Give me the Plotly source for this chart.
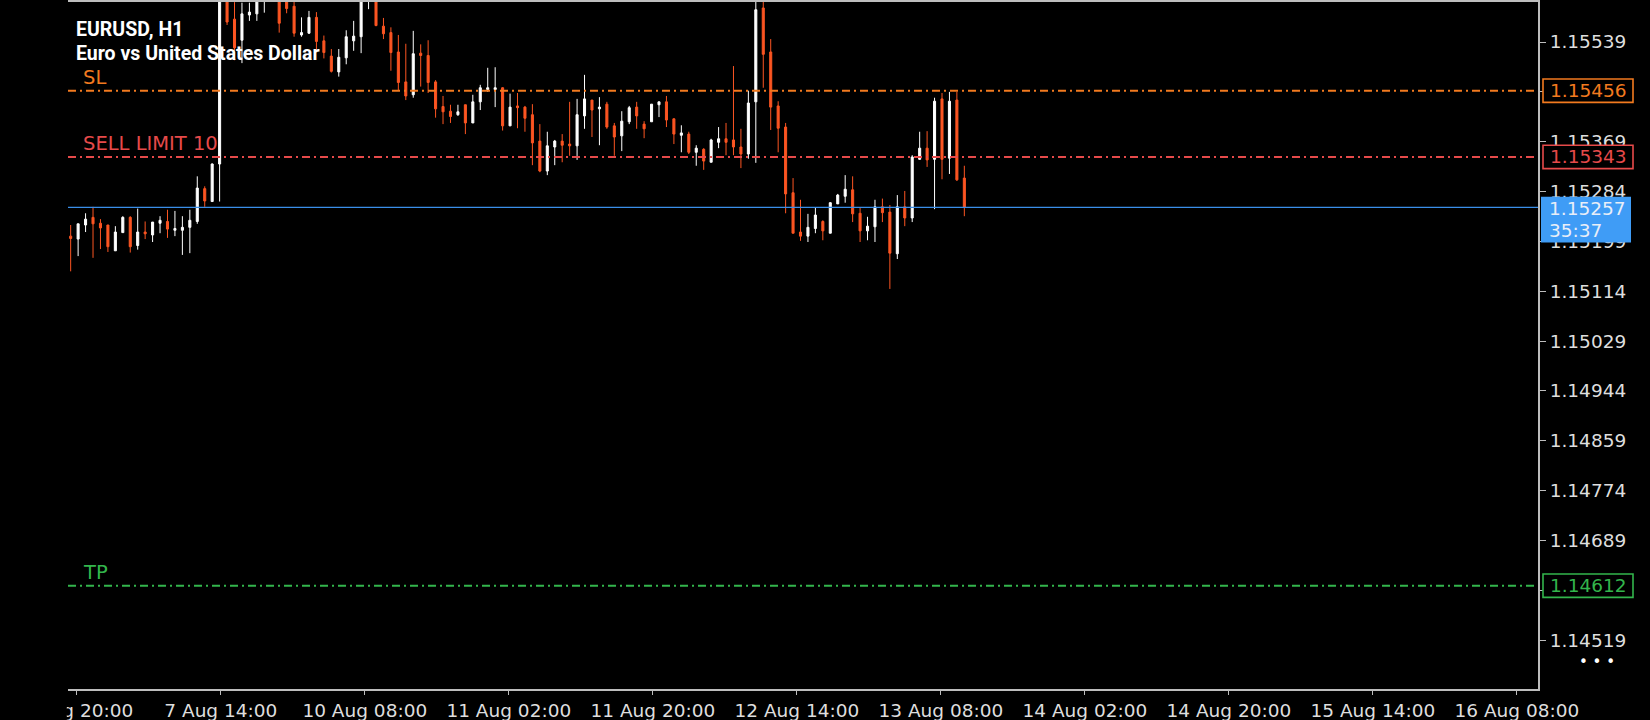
import plotly.graph_objects as go

# ---------------- data ----------------
opens = [1.15208, 1.15203, 1.15227, 1.15240, 1.15230, 1.15227, 1.15183, 1.15214, 1.15240, 1.15192,
         1.15215, 1.15210, 1.15230, 1.15233, 1.15218, 1.15218, 1.15223, 1.15233, 1.15289, 1.15267,
         1.15331, 1.15630, 1.15578, 1.15542, 1.15585, 1.15587, 1.15614, 1.15625, 1.15625, 1.15608,
         1.15600, 1.15551, 1.15554, 1.15581, 1.15541, 1.15515, 1.15488, 1.15512, 1.15541, 1.15548,
         1.15614, 1.15615, 1.15566, 1.15555, 1.15522, 1.15471, 1.15449, 1.15520, 1.15516, 1.15471,
         1.15429, 1.15421, 1.15415, 1.15432, 1.15401, 1.15437, 1.15458, 1.15458, 1.15461, 1.15396,
         1.15430, 1.15428, 1.15415, 1.15370, 1.15319, 1.15360, 1.15370, 1.15365, 1.15362, 1.15413,
         1.15440, 1.15425, 1.15433, 1.15396, 1.15379, 1.15403, 1.15428, 1.15399, 1.15403, 1.15432,
         1.15437, 1.15408, 1.15380, 1.15382, 1.15351, 1.15356, 1.15334, 1.15368, 1.15374, 1.15372,
         1.15360, 1.15348, 1.15437, 1.15597, 1.15522, 1.15430, 1.15394, 1.15282, 1.15215, 1.15208,
         1.15221, 1.15233, 1.15213, 1.15263, 1.15276, 1.15287, 1.15247, 1.15217, 1.15224, 1.15258,
         1.15249, 1.15178, 1.15258, 1.15239, 1.15339, 1.15358, 1.15339, 1.15442, 1.15341, 1.15440,
         1.15307]
highs = [1.15227, 1.15229, 1.15247, 1.15258, 1.15237, 1.15227, 1.15225, 1.15242, 1.15242, 1.15255,
         1.15233, 1.15232, 1.15242, 1.15253, 1.15251, 1.15242, 1.15253, 1.15310, 1.15293, 1.15332,
         1.15650, 1.15660, 1.15607, 1.15606, 1.15606, 1.15620, 1.15630, 1.15650, 1.15640, 1.15615,
         1.15612, 1.15581, 1.15592, 1.15590, 1.15550, 1.15527, 1.15527, 1.15559, 1.15575, 1.15620,
         1.15628, 1.15625, 1.15580, 1.15564, 1.15551, 1.15536, 1.15558, 1.15535, 1.15542, 1.15474,
         1.15447, 1.15432, 1.15432, 1.15432, 1.15449, 1.15466, 1.15495, 1.15496, 1.15462, 1.15451,
         1.15452, 1.15430, 1.15433, 1.15399, 1.15386, 1.15372, 1.15382, 1.15437, 1.15442, 1.15483,
         1.15440, 1.15445, 1.15437, 1.15401, 1.15421, 1.15430, 1.15437, 1.15404, 1.15433, 1.15437,
         1.15447, 1.15409, 1.15397, 1.15386, 1.15363, 1.15358, 1.15374, 1.15394, 1.15401, 1.15498,
         1.15391, 1.15456, 1.15615, 1.15612, 1.15544, 1.15438, 1.15401, 1.15307, 1.15270, 1.15246,
         1.15256, 1.15235, 1.15266, 1.15280, 1.15312, 1.15310, 1.15256, 1.15241, 1.15270, 1.15272,
         1.15261, 1.15278, 1.15285, 1.15346, 1.15386, 1.15387, 1.15444, 1.15452, 1.15454, 1.15454,
         1.15328]
lows = [1.15148, 1.15174, 1.15215, 1.15171, 1.15186, 1.15181, 1.15183, 1.15214, 1.15180, 1.15185,
        1.15203, 1.15198, 1.15213, 1.15205, 1.15208, 1.15176, 1.15179, 1.15229, 1.15258, 1.15267,
        1.15267, 1.15568, 1.15508, 1.15503, 1.15575, 1.15575, 1.15589, 1.15615, 1.15555, 1.15588,
        1.15548, 1.15548, 1.15553, 1.15522, 1.15511, 1.15487, 1.15480, 1.15501, 1.15524, 1.15520,
        1.15595, 1.15566, 1.15544, 1.15490, 1.15456, 1.15440, 1.15444, 1.15463, 1.15452, 1.15410,
        1.15399, 1.15401, 1.15413, 1.15382, 1.15401, 1.15423, 1.15454, 1.15428, 1.15388, 1.15396,
        1.15392, 1.15386, 1.15329, 1.15317, 1.15312, 1.15329, 1.15334, 1.15345, 1.15338, 1.15391,
        1.15377, 1.15363, 1.15391, 1.15345, 1.15353, 1.15399, 1.15391, 1.15375, 1.15403, 1.15411,
        1.15394, 1.15365, 1.15351, 1.15348, 1.15328, 1.15321, 1.15334, 1.15358, 1.15346, 1.15346,
        1.15324, 1.15340, 1.15333, 1.15461, 1.15389, 1.15351, 1.15247, 1.15213, 1.15200, 1.15198,
        1.15213, 1.15201, 1.15213, 1.15263, 1.15265, 1.15232, 1.15198, 1.15201, 1.15198, 1.15232,
        1.15118, 1.15169, 1.15225, 1.15232, 1.15338, 1.15326, 1.15254, 1.15305, 1.15314, 1.15302,
        1.15242]
closes = [1.15204, 1.15229, 1.15237, 1.15229, 1.15222, 1.15190, 1.15215, 1.15240, 1.15190, 1.15215,
          1.15212, 1.15232, 1.15235, 1.15220, 1.15221, 1.15223, 1.15235, 1.15290, 1.15268, 1.15331,
          1.15630, 1.15573, 1.15529, 1.15587, 1.15590, 1.15612, 1.15622, 1.15640, 1.15571, 1.15596,
          1.15554, 1.15555, 1.15581, 1.15540, 1.15521, 1.15489, 1.15513, 1.15548, 1.15549, 1.15612,
          1.15620, 1.15567, 1.15553, 1.15521, 1.15470, 1.15447, 1.15519, 1.15516, 1.15470, 1.15425,
          1.15420, 1.15412, 1.15420, 1.15401, 1.15437, 1.15461, 1.15461, 1.15461, 1.15396, 1.15428,
          1.15427, 1.15409, 1.15367, 1.15319, 1.15362, 1.15370, 1.15363, 1.15362, 1.15415, 1.15442,
          1.15423, 1.15428, 1.15394, 1.15377, 1.15404, 1.15427, 1.15413, 1.15391, 1.15433, 1.15437,
          1.15406, 1.15382, 1.15384, 1.15351, 1.15358, 1.15336, 1.15372, 1.15374, 1.15368, 1.15360,
          1.15348, 1.15435, 1.15594, 1.15518, 1.15428, 1.15392, 1.15280, 1.15213, 1.15208, 1.15223,
          1.15244, 1.15217, 1.15265, 1.15278, 1.15288, 1.15246, 1.15217, 1.15225, 1.15258, 1.15248,
          1.15179, 1.15258, 1.15239, 1.15343, 1.15358, 1.15338, 1.15438, 1.15339, 1.15438, 1.15304,
          1.15257]
bar_index = list(range(len(opens)))

time_labels = ["6 Aug 20:00", "7 Aug 14:00", "10 Aug 08:00", "11 Aug 02:00", "11 Aug 20:00",
               "12 Aug 14:00", "13 Aug 08:00", "14 Aug 02:00", "14 Aug 20:00", "15 Aug 14:00",
               "16 Aug 08:00"]
price_ticks = [1.14519, 1.14604, 1.14689, 1.14774, 1.14859, 1.14944, 1.15029,
               1.15114, 1.15199, 1.15284, 1.15369, 1.15454, 1.15539]

sl_level = 1.15456
sell_limit_level = 1.15343
tp_level = 1.14612
bid_price = 1.15257
countdown = "35:37"

title_symbol = "EURUSD, H1"
title_desc = "Euro vs United States Dollar"

# ---------------- style ----------------
BG = "#000000"
AXIS = "#bdbdbd"
TXT = "#dedede"
UP = "#ffffff"
DOWN = "#fc5522"
SL_C = "#f27a1f"
SELL_C = "#e64a4a"
TP_C = "#33b54c"
BID_C = "#3a8ee8"
BID_BOX = "#3f9cf6"
FONT = "DejaVu Sans"

first_tick = 0.823
tick_step = 19.337
tickvals = [first_tick + tick_step * k for k in range(len(time_labels))]

fig = go.Figure()
fig.add_trace(go.Candlestick(
    x=bar_index, open=opens, high=highs, low=lows, close=closes,
    increasing=dict(line=dict(color=UP, width=1), fillcolor=UP),
    decreasing=dict(line=dict(color=DOWN, width=1), fillcolor=DOWN),
    whiskerwidth=0, hoverinfo="skip", showlegend=False,
))

shapes = []
for lvl, col in [(sl_level, SL_C), (sell_limit_level, SELL_C), (tp_level, TP_C)]:
    shapes.append(dict(type="line", xref="paper", x0=0, x1=1, yref="y", y0=lvl, y1=lvl,
                       line=dict(color=col, width=2, dash="8px,4px,2px,4px"), layer="above"))
shapes.append(dict(type="line", xref="paper", x0=0, x1=1, yref="y", y0=bid_price, y1=bid_price,
                   line=dict(color=BID_C, width=1.3), layer="above"))

annotations = []
for lvl, col in [(sl_level, SL_C), (sell_limit_level, SELL_C), (tp_level, TP_C)]:
    shapes.append(dict(type="rect", xref="paper", xsizemode="pixel", xanchor=1, x0=5, x1=95,
                       yref="y", ysizemode="pixel", yanchor=lvl, y0=-11.7, y1=11.7,
                       fillcolor=BG, line=dict(color=col, width=1.6), layer="above"))
    annotations.append(dict(xref="paper", x=1, xshift=10, xanchor="left",
                            yref="y", y=lvl, yanchor="middle", yshift=0,
                            text=f"{lvl:.5f}", showarrow=False,
                            font=dict(family=FONT, size=18.5, color=col)))

shapes.append(dict(type="rect", xref="paper", xsizemode="pixel", xanchor=1, x0=3, x1=93,
                   yref="y", ysizemode="pixel", yanchor=bid_price, y0=-35, y1=10.7,
                   fillcolor=BID_BOX, line=dict(width=0), layer="above"))
annotations.append(dict(xref="paper", x=1, xshift=9, xanchor="left",
                        yref="y", y=bid_price, yanchor="middle", yshift=-1,
                        text=f"{bid_price:.5f}", showarrow=False,
                        font=dict(family=FONT, size=18.5, color="#e8eef8")))
annotations.append(dict(xref="paper", x=1, xshift=9, xanchor="left",
                        yref="y", y=bid_price, yanchor="middle", yshift=-23,
                        text=countdown, showarrow=False,
                        font=dict(family=FONT, size=18.5, color="#e8eef8")))

# cover the clipped part of the first time label (as at the chart's left edge)
shapes.append(dict(type="rect", xref="paper", x0=-0.06, x1=-0.0008, yref="paper", y0=-0.06, y1=-0.003,
                   fillcolor=BG, line=dict(width=0), layer="above"))

# level labels
for lvl, col, name in [(sl_level, SL_C, "SL"), (sell_limit_level, SELL_C, "SELL LIMIT 10"),
                       (tp_level, TP_C, "TP")]:
    annotations.append(dict(xref="paper", x=0, xshift=13, xanchor="left",
                            yref="y", y=lvl, yanchor="middle", yshift=13,
                            text=name, showarrow=False,
                            font=dict(family=FONT, size=19.5, color=col)))

# title
annotations.append(dict(xref="paper", x=0, xshift=6, xanchor="left", yref="paper", y=1,
                        yanchor="middle", yshift=-27, text=f"<b>{title_symbol}</b>", showarrow=False,
                        font=dict(family="Roboto", size=19.5, color="#ffffff")))
annotations.append(dict(xref="paper", x=0, xshift=6, xanchor="left", yref="paper", y=1,
                        yanchor="middle", yshift=-51, text=f"<b>{title_desc}</b>", showarrow=False,
                        font=dict(family="Roboto", size=19.5, color="#ffffff")))
# menu dots
annotations.append(dict(xref="paper", x=1, xshift=59, xanchor="center", yref="paper", y=0,
                        yshift=27, yanchor="middle", text="\u2022 \u2022 \u2022", showarrow=False,
                        font=dict(family=FONT, size=15, color="#ffffff")))

fig.update_layout(
    width=1650, height=720,
    margin=dict(l=68, r=112, t=2, b=31, autoexpand=False),
    paper_bgcolor=BG, plot_bgcolor=BG,
    showlegend=False,
    boxgap=0.45, boxgroupgap=0.5,
    shapes=shapes, annotations=annotations,
    xaxis=dict(range=[-0.359, 197.03], rangeslider=dict(visible=False),
               tickmode="array", tickvals=tickvals, ticktext=time_labels,
               showgrid=False, zeroline=False, showline=True, linecolor=AXIS, linewidth=2,
               mirror=True, ticks="outside", ticklen=4, tickcolor=AXIS, tickwidth=1,
               tickfont=dict(family=FONT, size=18.5, color=TXT), automargin=False),
    yaxis=dict(range=[1.144359, 1.156072], side="right",
               tickmode="array", tickvals=price_ticks, ticktext=[f"{v:.5f}" for v in price_ticks],
               showgrid=False, zeroline=False, showline=True, linecolor=AXIS, linewidth=2,
               ticks="outside", ticklen=6, tickcolor=AXIS, tickwidth=1,
               tickfont=dict(family=FONT, size=18.5, color=TXT), automargin=False),
)

fig.write_html(
    "out.html",
    config={"displayModeBar": False},
    post_script="document.body.style.margin='0';document.body.style.background='#000';"
                "document.documentElement.style.background='#000';document.body.style.overflow='hidden';",
)
